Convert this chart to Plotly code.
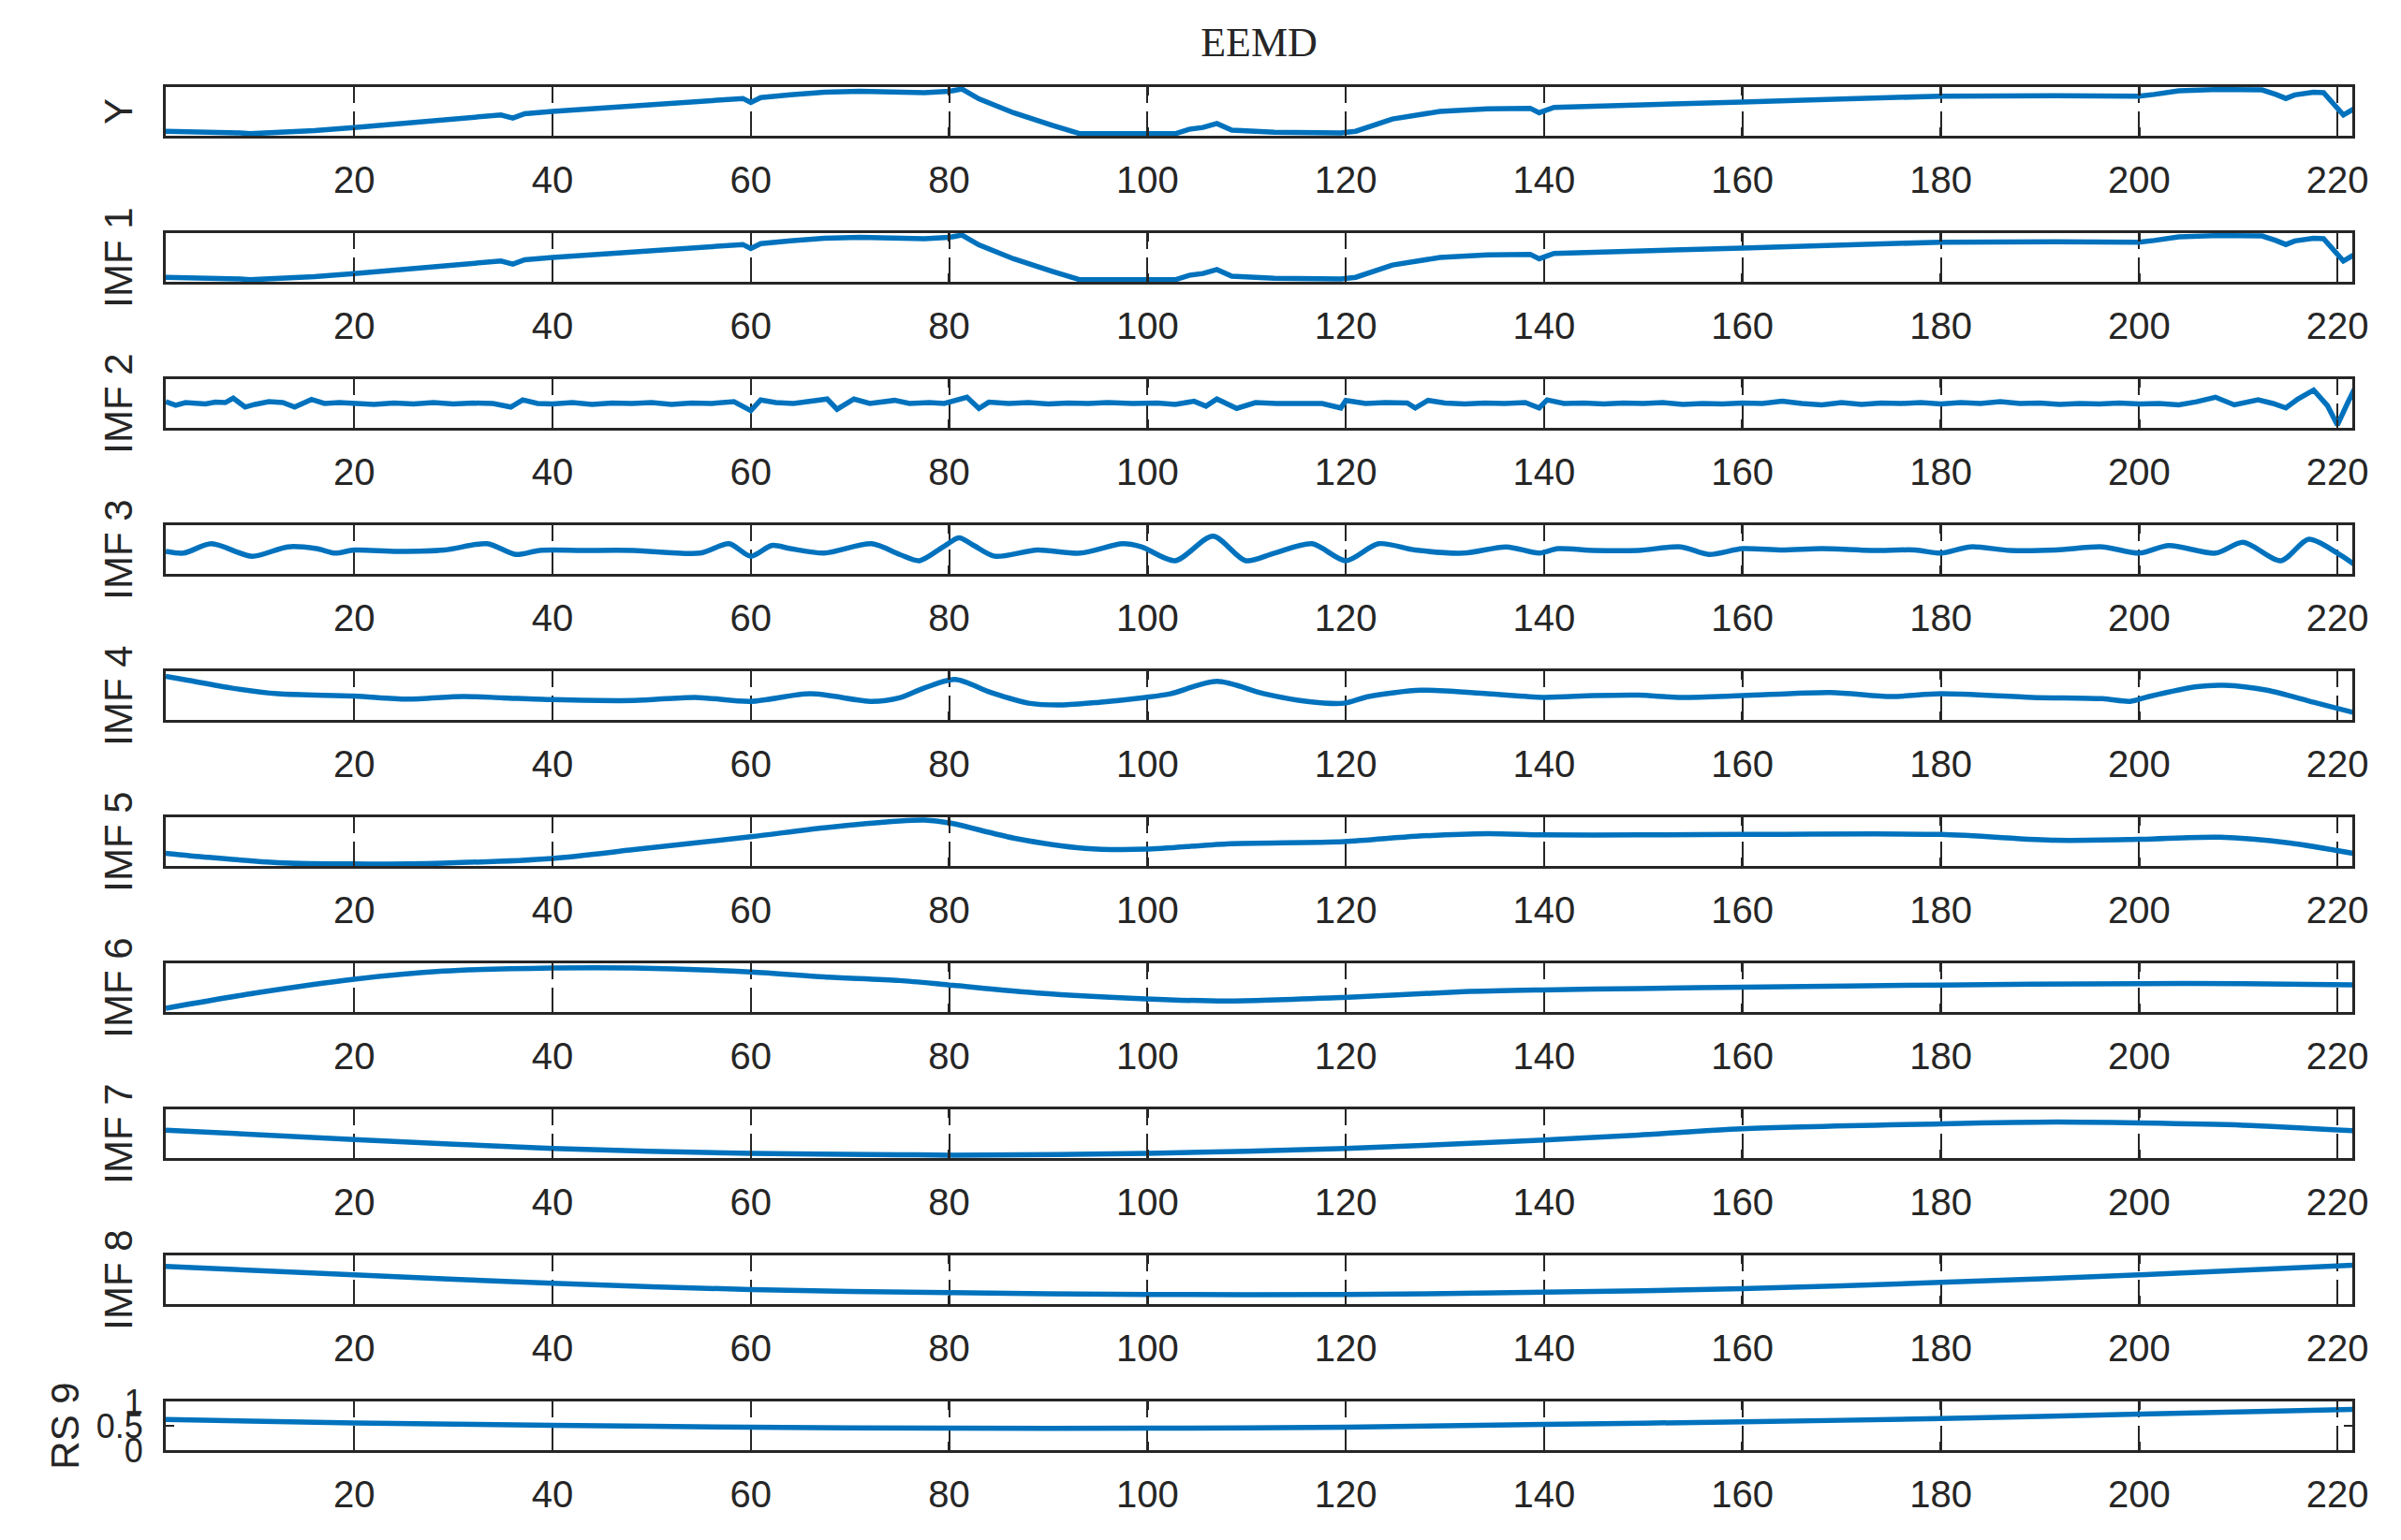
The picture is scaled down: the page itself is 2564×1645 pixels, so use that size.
import plotly.graph_objects as go

# ---------------- data (amplitudes are panel-normalised) ----------------
labels = ["Y", "IMF 1", "IMF 2", "IMF 3", "IMF 4", "IMF 5", "IMF 6", "IMF 7", "IMF 8", "RS 9"]
x_ticks = [20, 40, 60, 80, 100, 120, 140, 160, 180, 200, 220]

y_x = [1, 3, 5, 7, 8.5, 9.5, 11, 13, 16, 20, 24, 28, 32, 34.8, 36, 37.2, 40, 44, 48.5, 53, 57.8, 59.2,
       60, 61, 64, 67.4, 71, 75, 77.5, 80, 81.3, 83, 86.5, 90.4, 93.2, 98.5, 102.8, 104.2, 105.6, 107,
       108.5, 112.8, 119.5, 121, 124.7, 129.5, 134.3, 138.6, 139.5, 141, 149.5, 160, 170, 180, 191.6,
       200, 201.5, 204, 208, 211.4, 212.4, 213.8, 214.8, 215.7, 217.6, 218.6, 219.5, 220.6, 222]
y_v = [0.055, 0.05, 0.05, 0.04, 0.02, 0.0, 0.01, 0.025, 0.07, 0.14, 0.21, 0.29, 0.36, 0.42, 0.35, 0.45,
       0.50, 0.56, 0.63, 0.70, 0.765, 0.79, 0.70, 0.81, 0.87, 0.93, 0.95, 0.94, 0.92, 0.95, 1.0, 0.78,
       0.47, 0.19, 0.0, 0.0, 0.0, 0.10, 0.14, 0.23, 0.08, 0.035, 0.02, 0.055, 0.33, 0.50, 0.56, 0.57,
       0.47, 0.59, 0.655, 0.71, 0.78, 0.84, 0.85, 0.84, 0.88, 0.96, 0.99, 1.0, 0.98, 0.88, 0.79, 0.87,
       0.93, 0.92, 0.70, 0.42, 0.60]

imf1_x = [1, 3, 5, 7, 8.5, 9.5, 11, 13, 16, 20, 24, 28, 32, 34.8, 36, 37.2, 40, 44, 48.5, 53, 57.8, 59.2,
          60, 61, 64, 67.4, 71, 75, 77.5, 80, 81.3, 83, 86.5, 90.4, 93.2, 98.5, 102.8, 104.2, 105.6, 107,
          108.5, 112.8, 119.5, 121, 124.7, 129.5, 134.3, 138.6, 139.5, 141, 149.5, 160, 170, 180, 191.6,
          200, 201.5, 204, 208, 211.4, 212.4, 213.8, 214.8, 215.7, 217.6, 218.6, 219.5, 220.6, 222]
imf1_v = [0.055, 0.05, 0.05, 0.04, 0.02, 0.0, 0.01, 0.025, 0.07, 0.14, 0.21, 0.29, 0.36, 0.42, 0.35, 0.45,
          0.50, 0.56, 0.63, 0.70, 0.765, 0.79, 0.70, 0.81, 0.87, 0.93, 0.95, 0.94, 0.92, 0.95, 1.0, 0.78,
          0.47, 0.19, 0.0, 0.0, 0.0, 0.10, 0.14, 0.23, 0.08, 0.035, 0.02, 0.055, 0.33, 0.50, 0.56, 0.57,
          0.47, 0.59, 0.655, 0.71, 0.78, 0.84, 0.85, 0.84, 0.88, 0.96, 0.99, 1.0, 0.98, 0.88, 0.79, 0.87,
          0.93, 0.92, 0.70, 0.42, 0.60]

imf2_x = [1, 2, 3, 4, 5, 6, 7, 7.8, 9, 10, 11.4, 12.8, 14, 15.7, 17, 18.5, 20, 22, 24, 26, 28, 30, 32, 34,
          35.8, 37, 38.5, 40, 42, 44, 46, 48, 50, 52, 54, 56, 58.3, 60, 61, 62.5, 64.3, 66, 67.7, 68.7, 70.4,
          72, 74.5, 76, 78, 79.5, 81.8, 83, 84, 86, 88, 90, 92, 94, 96, 98.5, 101, 102.8, 104.7, 105.9,
          107, 109, 110.9, 113, 115, 117.6, 119.5, 120, 122, 124, 126.2, 127, 128.3, 130, 132, 134, 136,
          138.1, 139.5, 140.3, 142, 144, 146, 148, 150, 152, 154, 156, 158, 160, 162, 164, 166, 168, 170,
          172, 174, 176, 178, 180, 182, 184, 186, 188, 190, 192, 194, 196, 198, 200, 202, 204, 205.8,
          207.7, 209.6, 211, 212, 213.5, 214.8, 216, 217.6, 219, 220, 221, 222]
imf2_v = [0.54, 0.46, 0.52, 0.50, 0.49, 0.53, 0.52, 0.62, 0.42, 0.48, 0.54, 0.52, 0.42, 0.59, 0.50, 0.52,
          0.50, 0.48, 0.51, 0.49, 0.52, 0.49, 0.51, 0.50, 0.42, 0.58, 0.50, 0.49, 0.52, 0.48, 0.51, 0.50,
          0.52, 0.48, 0.51, 0.50, 0.54, 0.34, 0.58, 0.52, 0.50, 0.54, 0.60, 0.37, 0.60, 0.50, 0.57, 0.50,
          0.52, 0.50, 0.64, 0.39, 0.53, 0.50, 0.52, 0.49, 0.51, 0.50, 0.52, 0.50, 0.51, 0.48, 0.55, 0.44,
          0.60, 0.39, 0.52, 0.50, 0.51, 0.50, 0.40, 0.57, 0.50, 0.52, 0.51, 0.40, 0.57, 0.51, 0.49, 0.51,
          0.50, 0.52, 0.40, 0.58, 0.50, 0.51, 0.49, 0.51, 0.50, 0.52, 0.48, 0.50, 0.49, 0.51, 0.50, 0.55,
          0.50, 0.47, 0.52, 0.48, 0.51, 0.50, 0.52, 0.49, 0.52, 0.50, 0.54, 0.50, 0.51, 0.48, 0.50, 0.49,
          0.51, 0.49, 0.50, 0.47, 0.54, 0.64, 0.47, 0.55, 0.58, 0.50, 0.40, 0.60, 0.80, 0.45, 0.02, 0.50,
          0.95]

imf3_x = [1, 2.8, 5.6, 9.7, 13.3, 16.2, 18.1, 20, 24.3, 29.1, 33.4, 36.3, 38.7, 43, 48.2, 54.9, 57.8, 60,
          62.1, 64, 67.4, 72.2, 75, 77, 79.4, 81, 82.5, 84.6, 88.9, 93.2, 97.5, 99.4, 102.8, 106.6, 109.9,
          112.8, 116.6, 120, 123.3, 127, 131.9, 136.2, 139.5, 141.4, 145, 149.5, 153.8, 156.6, 160, 164,
          168, 173, 177.4, 180, 183, 187, 191.6, 196.3, 200, 203, 207.7, 210.5, 214.3, 217.1, 220, 222]
imf3_v = [0.46, 0.42, 0.63, 0.35, 0.56, 0.52, 0.42, 0.49, 0.46, 0.49, 0.63, 0.39, 0.48, 0.48, 0.48, 0.42,
          0.63, 0.35, 0.59, 0.52, 0.42, 0.63, 0.39, 0.25, 0.56, 0.76, 0.59, 0.35, 0.49, 0.42, 0.63, 0.56,
          0.25, 0.80, 0.25, 0.42, 0.63, 0.25, 0.63, 0.49, 0.42, 0.56, 0.42, 0.52, 0.48, 0.48, 0.56, 0.39,
          0.52, 0.49, 0.52, 0.48, 0.49, 0.42, 0.56, 0.48, 0.49, 0.56, 0.42, 0.59, 0.42, 0.66, 0.25, 0.73,
          0.42, 0.12]

imf4_x = [1, 3.3, 7.6, 12.3, 20, 25.3, 31, 35, 40, 48.2, 54.4, 60, 66, 72.2, 75, 77.5, 80.6, 84.2, 88,
          91.3, 95.1, 99.8, 102.3, 107, 111.8, 116.1, 119.8, 122.3, 127.6, 134.3, 139.9, 145, 149.5,
          153.8, 160, 168.9, 175, 180, 189.2, 196.3, 199.1, 201, 205.8, 208.6, 212.9, 217.6, 222]
imf4_v = [0.93, 0.84, 0.67, 0.54, 0.49, 0.42, 0.48, 0.45, 0.41, 0.39, 0.46, 0.37, 0.54, 0.37, 0.45, 0.67,
          0.86, 0.57, 0.33, 0.29, 0.35, 0.46, 0.54, 0.82, 0.54, 0.37, 0.33, 0.48, 0.62, 0.54, 0.46, 0.50,
          0.51, 0.46, 0.50, 0.57, 0.48, 0.54, 0.46, 0.43, 0.37, 0.48, 0.70, 0.73, 0.62, 0.35, 0.10]

imf5_x = [1, 5.2, 12.3, 20, 29, 40, 48.2, 60, 67.4, 75, 77.5, 80, 86.5, 93.7, 99.8, 108, 119.8, 127.1,
          134.3, 139.9, 149.5, 160, 180, 191.6, 200, 208.1, 215.2, 222]
imf5_v = [0.24, 0.15, 0.03, 0.0, 0.02, 0.125, 0.32, 0.61, 0.81, 0.96, 0.98, 0.92, 0.58, 0.35, 0.33, 0.45,
          0.50, 0.62, 0.68, 0.65, 0.65, 0.66, 0.66, 0.53, 0.55, 0.60, 0.47, 0.22]

imf6_x = [1, 10, 20, 29, 40, 48.2, 60, 67.4, 75, 80, 88.9, 99.8, 108, 119.8, 131.9, 139.9, 149.5, 160,
          180, 200, 210.5, 222]
imf6_v = [0.04, 0.38, 0.69, 0.87, 0.94, 0.94, 0.85, 0.74, 0.66, 0.56, 0.38, 0.25, 0.20, 0.28, 0.41, 0.45,
          0.48, 0.51, 0.56, 0.59, 0.59, 0.56]

imf7_x = [1, 20, 40, 60, 75, 80, 100, 120, 140, 149.5, 160, 180, 191.6, 200, 210.5, 222]
imf7_v = [0.58, 0.37, 0.17, 0.06, 0.03, 0.02, 0.06, 0.17, 0.36, 0.47, 0.61, 0.72, 0.76, 0.74, 0.69, 0.56]

imf8_x = [1, 20, 40, 60, 80, 100, 120, 140, 160, 180, 200, 222]
imf8_v = [0.80, 0.61, 0.42, 0.28, 0.21, 0.17, 0.17, 0.22, 0.30, 0.44, 0.61, 0.83]

rs9_x = [1, 20, 40, 60, 80, 100, 120, 140, 160, 180, 200, 222]
rs9_v = [0.63, 0.56, 0.51, 0.47, 0.45, 0.45, 0.47, 0.53, 0.58, 0.65, 0.74, 0.84]

rs9_ticks = [0, 0.5, 1]
rs9_ticktext = ["0", "0.5", "1"]

series = [(y_x, y_v), (imf1_x, imf1_v), (imf2_x, imf2_v), (imf3_x, imf3_v), (imf4_x, imf4_v),
          (imf5_x, imf5_v), (imf6_x, imf6_v), (imf7_x, imf7_v), (imf8_x, imf8_v), (rs9_x, rs9_v)]
smooth = [False, False, False, True, True, True, True, True, True, True]

# ---------------- layout geometry ----------------
W, H = 2564, 1645
ML, MR, MT, MB = 177, 52, 93, 96
PLOT_H = H - MT - MB
PITCH = 156
PANEL_H = 52

INK = "#262626"
LINE_C = "#0072BD"
FONT = "Liberation Sans"

fig = go.Figure()
layout = {}
for i, (lab, (xs, vs)) in enumerate(zip(labels, series)):
    sfx = "" if i == 0 else str(i + 1)
    top = MT + PITCH * i
    bot = top + PANEL_H
    d1 = (H - MB - top) / PLOT_H
    d0 = max(0.0, (H - MB - bot) / PLOT_H)
    fig.add_trace(go.Scatter(
        x=xs, y=vs, mode="lines",
        line=dict(color=LINE_C, width=5.5, shape="spline" if smooth[i] else "linear", smoothing=0.8),
        xaxis="x" + sfx, yaxis="y" + sfx, showlegend=False, hoverinfo="skip"))
    layout["xaxis" + sfx] = dict(
        domain=[0, 1], anchor="y" + sfx, range=[1, 221.5],
        tickmode="array", tickvals=x_ticks, ticktext=[str(t) for t in x_ticks],
        ticks="inside", ticklen=9, tickwidth=2.5, tickcolor=INK,
        showline=True, linewidth=3, linecolor=INK, mirror="ticks",
        showgrid=True, gridcolor=INK, gridwidth=2, griddash="17px,9px",
        zeroline=False, tickfont=dict(family=FONT, size=40, color=INK),
        ticklabelstandoff=10, fixedrange=True)
    is_rs = (i == len(labels) - 1)
    ydict = dict(
        domain=[d0, d1], anchor="x" + sfx,
        showline=True, linewidth=3, linecolor=INK, mirror="ticks" if is_rs else True,
        showgrid=False, zeroline=False, fixedrange=True,
        title=dict(text=lab, font=dict(family=FONT, size=42, color=INK), standoff=6 if is_rs else 20))
    if is_rs:
        ydict.update(range=[0, 1], tickmode="array", tickvals=rs9_ticks, ticktext=rs9_ticktext,
                     ticks="inside", ticklen=9, tickwidth=2.5, tickcolor=INK,
                     tickfont=dict(family=FONT, size=36, color=INK), ticklabelstandoff=14)
    else:
        ydict.update(range=[-0.045, 1.045], ticks="", showticklabels=False)
    layout["yaxis" + sfx] = ydict

fig.update_layout(
    width=W, height=H, autosize=False,
    margin=dict(l=ML, r=MR, t=MT, b=MB, pad=0),
    paper_bgcolor="white", plot_bgcolor="white",
    font=dict(family=FONT, color=INK),
    title=dict(text="EEMD", x=0.5, xref="paper", xanchor="center",
               y=1 - 45 / H, yref="container", yanchor="middle",
               font=dict(family="Liberation Serif", size=44, color=INK)),
    **layout)

fig.write_html("out.html", include_plotlyjs=True, full_html=True,
               config={"displayModeBar": False, "staticPlot": True},
               post_script="document.body.style.margin='0';document.body.style.padding='0';"
                           "document.body.style.overflow='hidden';")
